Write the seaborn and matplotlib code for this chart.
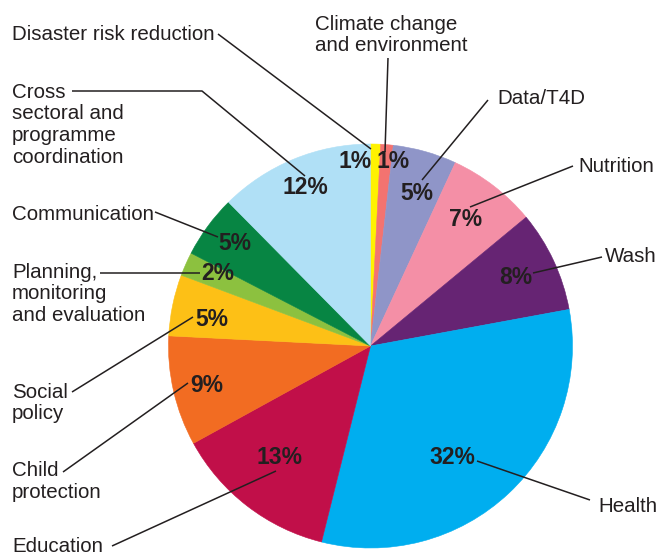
import matplotlib
matplotlib.use("Agg")
import matplotlib.pyplot as plt
from matplotlib import font_manager
import seaborn as sns

# ---- data ----
categories = ["Disaster risk reduction", "Climate change\nand environment", "Data/T4D",
              "Nutrition", "Wash", "Health", "Education", "Child\nprotection",
              "Social\npolicy", "Planning,\nmonitoring\nand evaluation", "Communication",
              "Cross\nsectoral and\nprogramme\ncoordination"]
values = [0.8, 1.0, 5.1, 7.1, 8.1, 31.8, 13.1, 8.8, 4.9, 1.9, 5.0, 12.4]
pct_labels = ["1%", "1%", "5%", "7%", "8%", "32%", "13%", "9%", "5%", "2%", "5%", "12%"]
colors = ["#FFF200", "#F37370", "#8F95C8", "#F48FA6", "#662473", "#00AEEF",
          "#C10F49", "#F26C22", "#FDC016", "#8CC13F", "#078543", "#B0E0F6"]

sns.set_style("white")
palette = sns.color_palette(colors)

avail = {f.name for f in font_manager.fontManager.ttflist}
fam = "Liberation Sans Narrow" if "Liberation Sans Narrow" in avail else "Liberation Sans"
plt.rcParams["font.family"] = [fam, "DejaVu Sans"]

W, H = 660, 556
fig = plt.figure(figsize=(W / 100, H / 100), dpi=100)
ax = fig.add_axes([0, 0, 1, 1])
ax.set_xlim(0, W)
ax.set_ylim(0, H)
ax.set_aspect("equal")
ax.axis("off")

def P(x, y):
    return (x, H - y)

cx, cy, R = 370.5, 346, 202
wedges, _ = ax.pie(values, colors=palette, startangle=90, counterclock=False,
                   center=P(cx, cy), radius=R, frame=True)
for w, c in zip(wedges, palette):
    w.set_edgecolor(c)
    w.set_linewidth(0.4)
ax.set_xlim(0, W)
ax.set_ylim(0, H)
ax.axis("off")

txt = "#231F20"
# percentage label centres (pixel coords)
pct_pos = [(355, 162), (393, 162), (417, 193), (466, 220), (516, 277), (452, 458),
           (280, 458), (207, 385), (212, 320), (218, 274), (235, 244), (305, 188)]
for lab, (x, y) in zip(pct_labels, pct_pos):
    ax.text(*P(x, y), lab, ha="center", va="center", fontsize=16.5,
            fontweight="bold", color=txt)

# category labels: (x, y of first line centre, ha)
cat_pos = [(12, 33, "left"), (315, 22, "left"), (497, 97, "left"), (578, 165, "left"),
           (605, 255, "left"), (598, 505, "left"), (12, 544, "left"), (12, 469, "left"),
           (12, 390, "left"), (12, 270, "left"), (12, 213, "left"), (12, 90, "left")]
LS = 21.8
for lab, (x, y, ha) in zip(categories, cat_pos):
    for i, line in enumerate(lab.split("\n")):
        ax.text(*P(x, y + i * LS), line, ha=ha, va="center_baseline", fontsize=14.8,
                color=txt)

leaders = [
    [(218, 34), (371, 149)],
    [(388, 58), (385, 152)],
    [(488, 100), (422, 180)],
    [(573, 166), (470, 207)],
    [(602, 257), (533, 273)],
    [(590, 500), (477, 461)],
    [(112, 546), (276, 471)],
    [(63, 472), (188, 383)],
    [(72, 392), (193, 317)],
    [(100, 273), (200, 273)],
    [(155, 212), (218, 237)],
    [(72, 91), (202, 91), (305, 176)],
]
for pts in leaders:
    xs = [p[0] for p in pts]
    ys = [H - p[1] for p in pts]
    ax.plot(xs, ys, color=txt, lw=1.1, solid_capstyle="butt")

fig.savefig("out.png", dpi=100)
